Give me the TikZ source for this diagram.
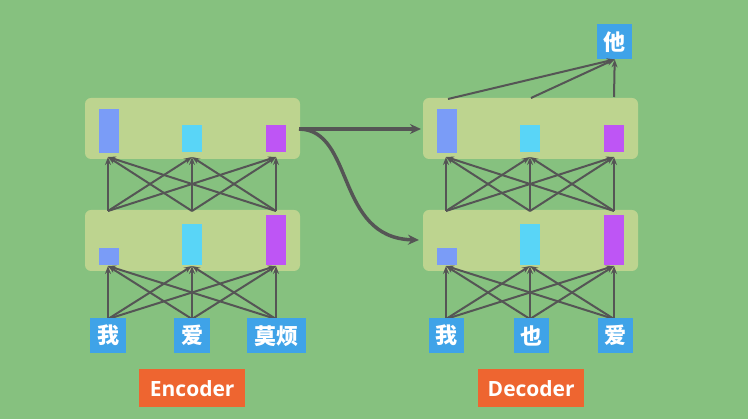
\documentclass[tikz,border=0pt]{standalone}
\usepackage{fontspec}
\setmainfont{Open Sans}
\newfontfamily\cjk{Noto Sans CJK SC}
\usetikzlibrary{arrows.meta}
\definecolor{bg}{HTML}{86C17F}
\definecolor{lay}{HTML}{BDD48F}
\definecolor{cb}{HTML}{7A9CF7}
\definecolor{cc}{HTML}{59D5F7}
\definecolor{cp}{HTML}{BE55F5}
\definecolor{wb}{HTML}{3FA3E8}
\definecolor{og}{HTML}{EE6530}
\definecolor{ar}{HTML}{555555}
\begin{document}
\begin{tikzpicture}[x=1pt,y=-1pt,
 layer/.style={fill=lay,rounded corners=6pt,draw=none},
 word/.style={fill=wb,text=white,font=\cjk\bfseries\fontsize{22}{22}\selectfont,inner sep=0pt,minimum height=35pt,anchor=north west},
 lab/.style={fill=og,text=white,font=\bfseries\fontsize{21}{21}\selectfont,minimum width=106pt,minimum height=38pt,inner sep=0pt,anchor=north west},
 con/.style={draw=ar,line width=2pt,-{Stealth[length=8pt,width=6pt]}},
 big/.style={draw=ar,line width=3.5pt,-{Stealth[length=11pt,width=10pt]}}]
\fill[bg] (0,0) rectangle (748,419);
\useasboundingbox (0,0) rectangle (748,419);
\foreach \o/\n in {0/e,338/d}{
 \begin{scope}[xshift=\o]
 \fill[layer] (85,98) rectangle (300,159);
 \fill[layer] (85,210) rectangle (300,271);
 \fill[cb] (99,109) rectangle (119,153);
 \fill[cc] (182,125) rectangle (202,152);
 \fill[cp] (266,125) rectangle (286,152);
 \fill[cb] (99,248) rectangle (119,265);
 \fill[cc] (182,224) rectangle (202,265);
 \fill[cp] (266,215) rectangle (286,265);
 \foreach \i/\x in {1/108,2/192,3/276}{
  \coordinate (\n t\i) at (\x,157);
  \coordinate (\n m\i) at (\x,211);
  \coordinate (\n b\i) at (\x,266);
  \coordinate (\n w\i) at (\x,319);}
 \foreach \a in {1,2,3}{\foreach \b in {1,2,3}{
  \draw[con] (\n m\a) -- (\n t\b);
  \draw[con] (\n w\a) -- (\n b\b);}}
 \end{scope}}
\node[word,minimum width=36pt] (e1) at (90,318) {我};
\node[word,minimum width=36pt] (e2) at (174,318) {爱};
\node[word,minimum width=59pt] (e3) at (247,318) {莫烦};
\node[word,minimum width=35pt] (d1) at (429,318) {我};
\node[word,minimum width=35pt] (d2) at (514,318) {也};
\node[word,minimum width=35pt] (d3) at (598,318) {爱};
\node[word,minimum width=35pt] (out) at (597,24) {他};
\coordinate (o1) at (448,99); \coordinate (o2) at (531,98); \coordinate (o3) at (614,97);
\foreach \i in {1,2,3}{\draw[con] (o\i) -- (out.south);}
\node[lab] (enc) at (139,369) {Encoder};
\node[lab] (dec) at (478,369) {Decoder};
\coordinate (s) at (299,129);
\coordinate (t1) at (421,129);
\coordinate (t2) at (419,240);
\draw[big] (s) -- (t1);
\draw[big] (s) .. controls (355,130) and (335,238) .. (t2);
\end{tikzpicture}
\end{document}
